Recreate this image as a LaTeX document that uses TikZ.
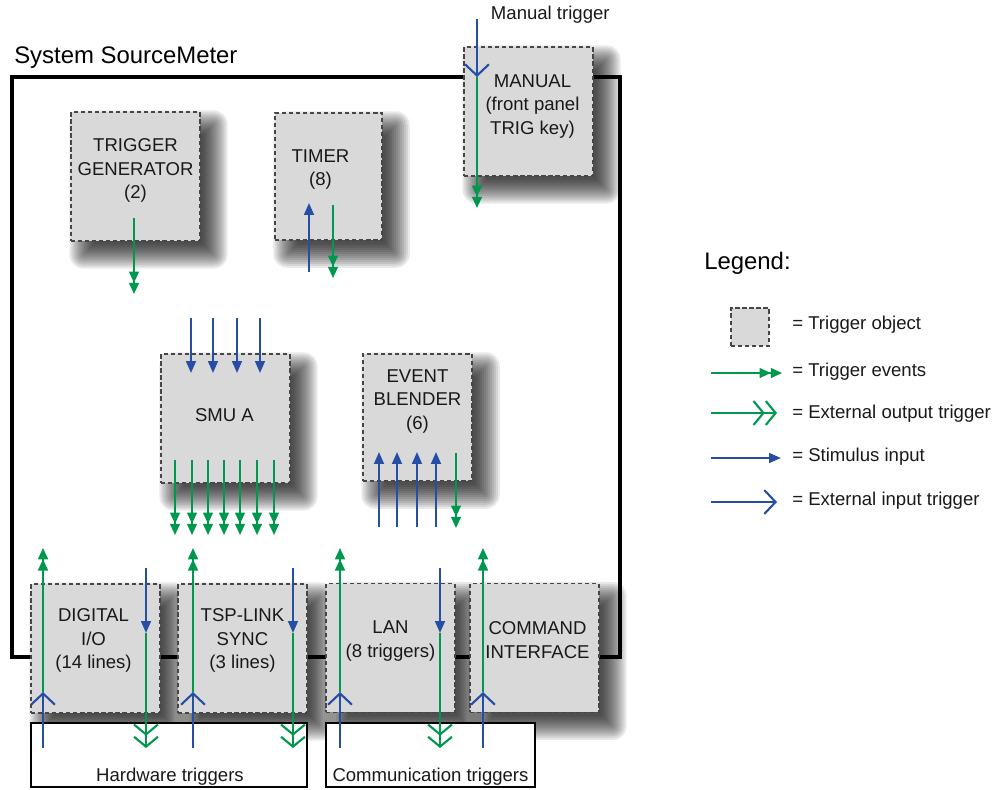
\documentclass[tikz,border=0pt]{standalone}
\usepackage{fontspec}
\setmainfont{Liberation Sans}
\usetikzlibrary{arrows.meta,calc,backgrounds}
\definecolor{trgreen}{RGB}{0,152,78}
\definecolor{trblue}{RGB}{38,78,165}
\definecolor{objfill}{RGB}{217,217,217}
\definecolor{objline}{RGB}{70,70,70}
\tikzset{
  trigobj/.style={draw=objline, fill=objfill, line width=0.9pt, dash pattern=on 3pt off 2pt,
    minimum width=3.22cm, minimum height=3.22cm, inner sep=0pt},
  objtext/.style={font=\fontsize{13.2}{16.5}\selectfont, align=center, text=black!90},
  softshadow/.style={fill=black, opacity=0.085},
  trigev/.style={trgreen, line width=1.4pt, -{Triangle[length=8pt,width=7pt]Triangle[length=8pt,width=7pt]}},
  stim/.style={trblue, line width=1.4pt, -{Triangle[length=8.5pt,width=7pt]}},
  extout/.style={trgreen, line width=1.5pt, -{Straight Barb[length=7pt,width=17pt]Straight Barb[length=7pt,width=17pt]}},
  extin/.style={trblue, line width=1.5pt, -{Straight Barb[length=8pt,width=17pt]}},
  groupbox/.style={draw=black, line width=1.5pt, fill=white}
}
\begin{document}
\begin{tikzpicture}[x=0.025cm,y=-0.025cm]
\useasboundingbox (0,0) rectangle (998,789);
% instrument
\draw[line width=2.6pt] (12,77) rectangle (620,657);
\node[font=\fontsize{17}{20}\selectfont, anchor=west, inner sep=0pt] (sys) at (14,58) {System SourceMeter};
% trigger objects
\node[trigobj] (tg) at (135.5,176.5) {};
\node[objtext] at ($(tg)+(0,-6)$) {TRIGGER\\GENERATOR\\(2)};
\node[trigobj, minimum width=2.68cm, minimum height=3.18cm] (timer) at (328.5,176.5) {};
\node[objtext] at ($(timer)+(-8,-7)$) {TIMER\\(8)};
\node[trigobj] (manual) at (528.5,111.5) {};
\node[objtext] at ($(manual)+(4,-5)$) {MANUAL\\(front panel\\TRIG key)};
\node[trigobj] (smu) at (225.5,418.5) {};
\node[objtext] at ($(smu)+(-1,-3)$) {SMU A};
\node[trigobj, minimum width=2.73cm, minimum height=3.18cm] (blender) at (417.5,417.5) {};
\node[objtext] at ($(blender)+(0,-16)$) {EVENT\\BLENDER\\(6)};
\node[trigobj] (dio) at (95.5,648.5) {};
\node[objtext] at ($(dio)+(-2,-8)$) {DIGITAL\\I/O\\(14 lines)};
\node[trigobj] (tsp) at (242.5,648.5) {};
\node[objtext] at ($(tsp)+(0,-8)$) {TSP-LINK\\SYNC\\(3 lines)};
\node[trigobj] (lan) at (390.5,648) {};
\node[objtext] at ($(lan)+(0,-7)$) {LAN\\(8 triggers)};
\node[trigobj] (cmd) at (534.5,648) {};
\node[objtext] at ($(cmd)+(3,-8)$) {COMMAND\\INTERFACE};
% soft shadows behind the objects
\begin{scope}[on background layer]
\foreach \n in {tg,timer,manual,smu,blender,dio,tsp,lan,cmd}
  \foreach \e in {-10,-8,...,14}
    \fill[softshadow, rounded corners={max(1,\e)*0.7pt}]
      ($(\n.north west)+(13-\e,13-\e)$) rectangle ($(\n.south east)+(13+\e,13+\e)$);
\end{scope}
% external trigger groups
\draw[groupbox] (31,723) rectangle (307,787);
\node[objtext] (hw) at (170,777) {Hardware triggers};
\draw[groupbox] (326,723) rectangle (535,787);
\node[objtext] (comm) at (430.5,777) {Communication triggers};
% events
\node[objtext, anchor=west] (mantxt) at (486,15) {Manual trigger};
\draw[extin] (477,19) -- (477,77);
\draw[trigev] (477,77) -- (477,208);
\draw[trigev] (134,218) -- (134,294);
\draw[stim] (309,272) -- (309,203);
\draw[trigev] (333,205) -- (333,278);
\foreach \x in {191,213,237,260}
  \draw[stim] (\x,318) -- (\x,373);
\foreach \x in {175,192,208,224,240,257,274}
  \draw[trigev] (\x,460) -- (\x,535);
\foreach \x in {379,397,417,436}
  \draw[stim] (\x,527) -- (\x,452);
\draw[trigev] (456,453) -- (456,528);
\foreach \x in {43,193,340,483}{
  \draw[extin] (\x,748) -- (\x,692);
  \draw[trigev] (\x,692) -- (\x,548);
}
\foreach \x in {146,293,440}{
  \draw[stim] (\x,568) -- (\x,633);
  \draw[extout] (\x,633) -- (\x,748);
}
% legend
\node[font=\fontsize{17}{20}\selectfont, anchor=west, inner sep=0pt] (lg) at (704,263) {Legend:};
\node[trigobj, minimum width=0.95cm, minimum height=0.95cm] (lgobj) at (750,327) {};
\node[objtext, anchor=west, inner sep=0pt] at (792,325) {= Trigger object};
\draw[trigev] (711,373) -- (782,373);
\node[objtext, anchor=west, inner sep=0pt] at (792,372) {= Trigger events};
\draw[extout] (711,413) -- (777,413);
\node[objtext, anchor=west, inner sep=0pt] at (792,414) {= External output trigger};
\draw[stim] (711,458) -- (781,458);
\node[objtext, anchor=west, inner sep=0pt] at (792,457) {= Stimulus input};
\draw[extin] (711,502) -- (777,502);
\node[objtext, anchor=west, inner sep=0pt] at (792,501) {= External input trigger};
\end{tikzpicture}
\end{document}
